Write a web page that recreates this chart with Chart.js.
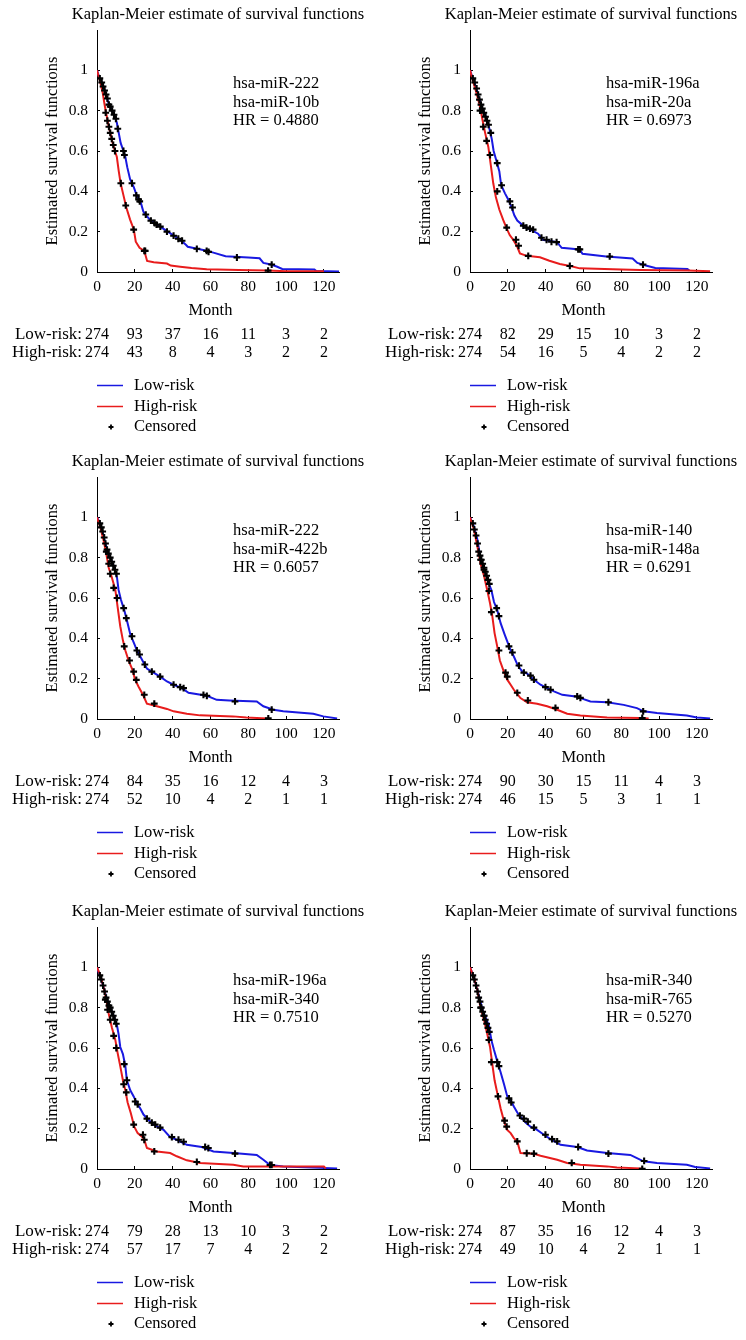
<!DOCTYPE html>
<html>
<head>
<meta charset="utf-8">
<script src="https://cdn.jsdelivr.net/npm/chart.js@4.4.1/dist/chart.umd.min.js"></script>
<style>
  html, body { margin: 0; padding: 0; background: #fff; }
  body { width: 746px; height: 1340px; overflow: hidden; position: relative; }
  .panel { position: absolute; width: 373px; height: 447px; }
</style>
</head>
<body>
<div class="panel" style="left:0;top:0"><canvas id="c1" width="373" height="447"></canvas></div>
<div class="panel" style="left:373px;top:0"><canvas id="c2" width="373" height="447"></canvas></div>
<div class="panel" style="left:0;top:447px"><canvas id="c3" width="373" height="447"></canvas></div>
<div class="panel" style="left:373px;top:447px"><canvas id="c4" width="373" height="447"></canvas></div>
<div class="panel" style="left:0;top:897px"><canvas id="c5" width="373" height="447"></canvas></div>
<div class="panel" style="left:373px;top:897px"><canvas id="c6" width="373" height="447"></canvas></div>
<script>
// shared axis values
const monthTicks = [0, 20, 40, 60, 80, 100, 120];
const monthMax = 128;
const survMax = 1.2;

// panel 1: hsa-miR-222 / hsa-miR-10b
const genes1 = ['hsa-miR-222', 'hsa-miR-10b'];
const hr1 = '0.4880';
const lowRisk1 = [[0,1],[1,0.97],[2,0.95],[3.5,0.92],[5,0.87],[6,0.84],[7.5,0.81],[9.5,0.77],[10.5,0.74],[11.5,0.69],[12.5,0.64],[14,0.6],[15,0.57],[16,0.52],[17.5,0.46],[19.5,0.42],[21,0.38],[23,0.35],[24.5,0.3],[26,0.28],[28,0.26],[31,0.24],[35,0.215],[39,0.19],[44,0.16],[47,0.135],[48,0.125],[53,0.115],[58,0.105],[62,0.095],[68,0.078],[80,0.072],[86,0.068],[88,0.045],[92,0.037],[95,0.027],[98,0.015],[115,0.012],[116,0.005],[128,0.003]];
const highRisk1 = [[0,1],[1.5,0.95],[3,0.89],[4,0.83],[5,0.78],[6,0.73],[7,0.69],[8,0.65],[9.5,0.6],[10.5,0.57],[11.5,0.5],[12.5,0.44],[14,0.38],[15.5,0.32],[17.5,0.26],[19.5,0.21],[20.5,0.15],[22.5,0.12],[25,0.105],[26.5,0.055],[30,0.048],[37,0.042],[39,0.032],[44,0.026],[50,0.02],[58,0.014],[75,0.01],[90,0.007],[100,0.004],[120,0.004]];
const censored1 = [[1.5,0.96],[2.5,0.94],[3.2,0.92],[4,0.9],[4.8,0.88],[5.5,0.86],[6.3,0.83],[7,0.82],[8,0.8],[9,0.78],[10,0.76],[11,0.71],[14,0.6],[14.5,0.58],[18.5,0.44],[20.8,0.38],[22,0.36],[22.6,0.35],[25.8,0.285],[28.5,0.255],[30.5,0.243],[31.5,0.235],[33.5,0.225],[37,0.2],[40.5,0.18],[43,0.165],[45,0.155],[52.8,0.115],[58,0.105],[59,0.1],[74,0.072],[92.4,0.037],
  [4.6,0.79],[5.5,0.75],[6.3,0.72],[7,0.69],[7.8,0.66],[8.6,0.63],[9.5,0.6],[12.6,0.44],[15.2,0.33],[19.4,0.21],[25,0.105],[25.5,0.105],[90.5,0.007]];
const atRiskLow1 = [274, 93, 37, 16, 11, 3, 2];
const atRiskHigh1 = [274, 43, 8, 4, 3, 2, 2];

// panel 2: hsa-miR-196a / hsa-miR-20a
const genes2 = ['hsa-miR-196a', 'hsa-miR-20a'];
const hr2 = '0.6973';
const lowRisk2 = [[0,1],[1.5,0.96],[3,0.92],[4,0.89],[5,0.855],[6.5,0.81],[8,0.78],[9.5,0.74],[10.5,0.7],[11.5,0.66],[12.5,0.6],[14,0.55],[15.5,0.5],[16.5,0.43],[18.5,0.39],[20.5,0.355],[22,0.32],[23.5,0.28],[25,0.255],[27.5,0.235],[29.5,0.22],[33,0.205],[36,0.19],[38.5,0.16],[46,0.148],[48.5,0.12],[58,0.112],[59.5,0.09],[72,0.077],[86,0.067],[88.5,0.045],[93,0.032],[98,0.02],[115,0.015],[116,0.007]];
const highRisk2 = [[0,1],[1.5,0.95],[3.5,0.885],[5.3,0.82],[6.7,0.75],[8,0.69],[9.7,0.62],[11,0.53],[12.3,0.44],[13.7,0.37],[15.5,0.31],[17.6,0.257],[19.4,0.216],[21,0.183],[23,0.158],[25,0.125],[26.4,0.092],[30,0.08],[37,0.073],[42,0.056],[47.5,0.04],[53,0.03],[58,0.018],[80,0.013],[90,0.01],[115,0.007],[127,0.004]];
const censored2 = [[1.5,0.96],[2.5,0.94],[3.5,0.91],[4.3,0.88],[5,0.855],[5.8,0.83],[6.5,0.81],[7.3,0.79],[8.2,0.77],[9,0.75],[9.8,0.73],[11,0.69],[14.4,0.54],[16.7,0.43],[21.1,0.35],[22.5,0.32],[28.2,0.23],[29.9,0.22],[31.7,0.215],[33.4,0.21],[37.8,0.17],[40.5,0.16],[43.1,0.15],[45.8,0.148],[57.2,0.112],[58.1,0.112],[73.9,0.077],[91.5,0.037],
  [5.3,0.8],[7,0.72],[8.8,0.65],[10.6,0.58],[14.4,0.4],[19.4,0.22],[24.3,0.16],[25.7,0.13],[30.8,0.08],[52.8,0.03]];
const atRiskLow2 = [274, 82, 29, 15, 10, 3, 2];
const atRiskHigh2 = [274, 54, 16, 5, 4, 2, 2];

// panel 3: hsa-miR-222 / hsa-miR-422b
const genes3 = ['hsa-miR-222', 'hsa-miR-422b'];
const hr3 = '0.6057';
const lowRisk3 = [[0,1],[1.4,0.975],[2.6,0.94],[3.9,0.89],[5.3,0.84],[7,0.8],[8.8,0.76],[10.6,0.7],[11.4,0.64],[12.7,0.59],[14.4,0.54],[15.8,0.49],[17.6,0.42],[19.4,0.38],[21.1,0.34],[22.9,0.31],[24.6,0.28],[26.4,0.25],[29.9,0.23],[33.4,0.21],[37,0.186],[40.5,0.17],[44.9,0.153],[48.4,0.13],[58.1,0.115],[63.3,0.095],[70,0.092],[84.5,0.087],[88,0.063],[93.3,0.046],[98.5,0.038],[114.4,0.026],[119.7,0.013],[127,0.003]];
const highRisk3 = [[0,1],[1.8,0.95],[3.5,0.885],[4.9,0.82],[6.2,0.75],[7.9,0.7],[9.7,0.64],[10.9,0.556],[12.3,0.46],[13.7,0.39],[15,0.34],[16.7,0.29],[18.5,0.25],[20.2,0.194],[22,0.16],[24.3,0.12],[26.4,0.076],[31.7,0.063],[37,0.05],[40.5,0.038],[47.5,0.026],[54.5,0.018],[72,0.013],[79,0.007],[90,0.003]];
const censored3 = [[1.5,0.97],[2.3,0.95],[3,0.93],[3.8,0.9],[4.5,0.87],[5.3,0.84],[6,0.82],[7,0.8],[7.8,0.78],[8.6,0.76],[9.5,0.74],[10.3,0.72],[14.1,0.55],[15.5,0.5],[18.5,0.41],[21.1,0.34],[22.5,0.32],[25.3,0.27],[29,0.235],[33.4,0.21],[40.5,0.17],[44,0.158],[45.8,0.153],[56.3,0.12],[58.1,0.115],[73,0.087],[92.4,0.046],
  [4.9,0.83],[6.2,0.77],[7,0.72],[8.8,0.65],[10.6,0.6],[14.4,0.36],[17.2,0.29],[19.4,0.235],[20.8,0.194],[25,0.12],[30.3,0.076],[90.6,0.003]];
const atRiskLow3 = [274, 84, 35, 16, 12, 4, 3];
const atRiskHigh3 = [274, 52, 10, 4, 2, 1, 1];

// panel 4: hsa-miR-140 / hsa-miR-148a
const genes4 = ['hsa-miR-140', 'hsa-miR-148a'];
const hr4 = '0.6291';
const lowRisk4 = [[0,1],[2.1,0.954],[3.9,0.89],[5.3,0.81],[6.5,0.76],[8.3,0.72],[10,0.67],[11.3,0.64],[12.7,0.58],[14.4,0.54],[16.2,0.475],[18.3,0.42],[19.7,0.385],[21.5,0.34],[23.2,0.31],[25.3,0.265],[27.6,0.236],[30.2,0.225],[33.8,0.195],[37.3,0.17],[40.8,0.153],[44.4,0.137],[48.8,0.12],[55.8,0.112],[63.7,0.087],[72.5,0.083],[81.3,0.07],[88.3,0.054],[91.8,0.038],[98.9,0.03],[114.7,0.017],[120,0.008],[127,0.003]];
const highRisk4 = [[0,1],[2.1,0.94],[3.9,0.855],[5.6,0.77],[7.4,0.71],[9.1,0.64],[10.6,0.574],[11.8,0.51],[13,0.426],[14.4,0.36],[15.8,0.29],[17.9,0.235],[19.7,0.195],[21.5,0.17],[23.2,0.145],[26.7,0.104],[30.2,0.083],[35.5,0.076],[40.8,0.063],[46.1,0.046],[51.4,0.026],[58.4,0.017],[72.5,0.008],[90,0.005],[94.5,0.002]];
const censored4 = [[1.5,0.97],[2.3,0.94],[3.2,0.91],[4,0.87],[4.6,0.83],[5.3,0.81],[6,0.79],[6.7,0.77],[7.4,0.75],[8.1,0.73],[8.8,0.71],[9.5,0.69],[10.2,0.67],[14.1,0.55],[15.3,0.51],[20.6,0.36],[22.4,0.33],[25.9,0.265],[28.5,0.23],[32,0.215],[33.8,0.195],[39.9,0.158],[42.6,0.145],[56.7,0.112],[58.4,0.105],[73.2,0.083],[91.6,0.038],
  [5.6,0.79],[7.4,0.74],[10,0.635],[11.3,0.53],[15.3,0.34],[18.8,0.23],[19.7,0.21],[25,0.13],[30.6,0.092],[45.2,0.055],[91.1,0.005]];
const atRiskLow4 = [274, 90, 30, 15, 11, 4, 3];
const atRiskHigh4 = [274, 46, 15, 5, 3, 1, 1];

// panel 5: hsa-miR-196a / hsa-miR-340
const genes5 = ['hsa-miR-196a', 'hsa-miR-340'];
const hr5 = '0.7510';
const lowRisk5 = [[0,1],[1.8,0.95],[3.5,0.9],[5.3,0.84],[7,0.8],[8.8,0.76],[10.6,0.71],[11.4,0.67],[12.3,0.605],[13.7,0.57],[15,0.51],[15.8,0.44],[17.6,0.39],[19.4,0.36],[21.1,0.325],[22.9,0.3],[24.6,0.27],[27.3,0.243],[29.9,0.22],[35.2,0.194],[38.7,0.158],[42.2,0.145],[47.5,0.12],[55.4,0.109],[61.6,0.087],[72.1,0.079],[84.5,0.07],[88,0.046],[91.5,0.02],[98.5,0.013],[127,0.003]];
const highRisk5 = [[0,1],[1.8,0.96],[3.5,0.9],[4.9,0.84],[6.2,0.77],[7.9,0.7],[9.7,0.64],[10.9,0.576],[12.3,0.51],[13.7,0.44],[15,0.39],[16.2,0.33],[17.9,0.276],[19.7,0.21],[21.5,0.178],[23.8,0.16],[25,0.145],[26.4,0.104],[31.7,0.087],[38.7,0.079],[42.2,0.063],[47.5,0.043],[54.5,0.03],[72.1,0.021],[77.4,0.013],[120,0.013],[121,0.003]];
const censored5 = [[1.5,0.96],[2.3,0.94],[3.2,0.91],[4,0.88],[4.8,0.85],[5.5,0.83],[6.3,0.81],[7,0.8],[7.8,0.78],[8.6,0.76],[9.4,0.74],[10.2,0.72],[14.4,0.52],[15.8,0.44],[20.2,0.335],[21.5,0.32],[26.4,0.25],[29,0.23],[30.8,0.22],[33.4,0.205],[39.6,0.158],[43.1,0.145],[45.8,0.135],[57.2,0.109],[58.9,0.104],[73,0.076],[91.5,0.02],[92.4,0.02],
  [4.4,0.84],[5.6,0.79],[7,0.74],[8.8,0.66],[10.2,0.6],[14.1,0.42],[15.5,0.38],[19.4,0.22],[24.3,0.17],[25,0.145],[30.3,0.087],[52.8,0.035]];
const atRiskLow5 = [274, 79, 28, 13, 10, 3, 2];
const atRiskHigh5 = [274, 57, 17, 7, 4, 2, 2];

// panel 6: hsa-miR-340 / hsa-miR-765
const genes6 = ['hsa-miR-340', 'hsa-miR-765'];
const hr6 = '0.5270';
const lowRisk6 = [[0,1],[2.1,0.95],[3.9,0.885],[5.3,0.84],[6.5,0.79],[8.3,0.75],[10,0.71],[11.3,0.64],[12.7,0.59],[14.4,0.535],[16.2,0.48],[18,0.42],[19.7,0.36],[21.5,0.34],[23.2,0.31],[25,0.28],[26.7,0.26],[29.4,0.23],[32,0.21],[35.5,0.194],[39.1,0.17],[42.6,0.148],[47.9,0.12],[56.7,0.109],[61.9,0.092],[72.5,0.079],[84.8,0.07],[88.3,0.054],[91.8,0.038],[98.9,0.03],[114.7,0.021],[119.1,0.01],[127,0.003]];
const highRisk6 = [[0,1],[2.1,0.95],[3.9,0.885],[5.6,0.8],[7.4,0.74],[9.1,0.67],[10.6,0.605],[11.8,0.52],[13,0.44],[14.8,0.36],[16.2,0.3],[17.9,0.24],[19.7,0.194],[21.5,0.178],[23.2,0.153],[25,0.137],[26.7,0.079],[33.8,0.076],[37.3,0.066],[46.1,0.046],[51.4,0.03],[58.4,0.021],[72.5,0.013],[77.7,0.008],[90,0.003],[91,0.001]];
const censored6 = [[1.5,0.96],[2.3,0.94],[3.2,0.91],[4,0.88],[4.6,0.85],[5.3,0.83],[6,0.8],[6.7,0.78],[7.4,0.76],[8.1,0.74],[8.8,0.72],[9.5,0.7],[10.2,0.68],[14.4,0.53],[15.3,0.51],[20.6,0.35],[21.8,0.33],[26.4,0.265],[28.5,0.25],[30.6,0.235],[33.8,0.205],[39.9,0.17],[43.4,0.148],[46.1,0.137],[57.2,0.109],[73.2,0.076],[92.1,0.04],
  [5.6,0.8],[7.4,0.76],[10,0.64],[11.3,0.53],[14.8,0.36],[18.3,0.24],[19.4,0.21],[25,0.137],[30,0.078],[33.8,0.076],[53.8,0.03],[91.1,0.001]];
const atRiskLow6 = [274, 87, 35, 16, 12, 4, 3];
const atRiskHigh6 = [274, 49, 10, 4, 2, 1, 1];

const panels = [
  {id: 'c1', genes: genes1, hr: hr1, low: lowRisk1, high: highRisk1, cens: censored1, nLow: atRiskLow1, nHigh: atRiskHigh1},
  {id: 'c2', genes: genes2, hr: hr2, low: lowRisk2, high: highRisk2, cens: censored2, nLow: atRiskLow2, nHigh: atRiskHigh2},
  {id: 'c3', genes: genes3, hr: hr3, low: lowRisk3, high: highRisk3, cens: censored3, nLow: atRiskLow3, nHigh: atRiskHigh3},
  {id: 'c4', genes: genes4, hr: hr4, low: lowRisk4, high: highRisk4, cens: censored4, nLow: atRiskLow4, nHigh: atRiskHigh4},
  {id: 'c5', genes: genes5, hr: hr5, low: lowRisk5, high: highRisk5, cens: censored5, nLow: atRiskLow5, nHigh: atRiskHigh5},
  {id: 'c6', genes: genes6, hr: hr6, low: lowRisk6, high: highRisk6, cens: censored6, nLow: atRiskLow6, nHigh: atRiskHigh6}
];

const SERIF = '"Liberation Serif", "Times New Roman", serif';
const BLUE = 'rgb(25, 25, 225)';
const RED = 'rgb(232, 28, 28)';

Chart.defaults.font.family = SERIF;
Chart.defaults.color = '#000';

const toXY = arr => arr.map(p => ({x: p[0], y: p[1]}));

// title, gene labels, risk table and legend drawn around the plot
const panelText = (p) => ({
    id: 'panelText',
    afterDraw(chart) {
        const {ctx, chartArea} = chart;
        const x = chart.scales.x;
        ctx.save();
        ctx.fillStyle = '#000';
        ctx.textBaseline = 'middle';
        ctx.font = '16.5px ' + SERIF;

        ctx.textAlign = 'center';
        ctx.fillText('Kaplan-Meier estimate of survival functions', (chartArea.left + chartArea.right) / 2, 15);

        ctx.textAlign = 'left';
        ctx.fillText(p.genes[0], 233, 84);
        ctx.fillText(p.genes[1], 233, 102.3);
        ctx.fillText('HR = ' + p.hr, 233, 120.6);

        ctx.textAlign = 'center';
        ctx.fillText('Month', x.getPixelForValue(60), 311);

        // number at risk
        ctx.font = '17px ' + SERIF;
        ctx.textAlign = 'right';
        ctx.fillText('Low-risk:', 82, 335);
        ctx.fillText('High-risk:', 82, 353);
        ctx.font = '16px ' + SERIF;
        ctx.textAlign = 'center';
        monthTicks.forEach((m, i) => {
            const px = x.getPixelForValue(m);
            ctx.fillText(String(p.nLow[i]), px, 335);
            ctx.fillText(String(p.nHigh[i]), px, 353);
        });

        // legend
        ctx.font = '16.5px ' + SERIF;
        ctx.lineWidth = 1.5;
        ctx.strokeStyle = BLUE;
        ctx.beginPath(); ctx.moveTo(97, 385.5); ctx.lineTo(123, 385.5); ctx.stroke();
        ctx.strokeStyle = RED;
        ctx.beginPath(); ctx.moveTo(97, 406.5); ctx.lineTo(123, 406.5); ctx.stroke();
        ctx.strokeStyle = '#000';
        ctx.lineWidth = 1.8;
        ctx.beginPath();
        ctx.moveTo(108.5, 427); ctx.lineTo(113.5, 427);
        ctx.moveTo(111, 424.5); ctx.lineTo(111, 429.5);
        ctx.stroke();
        ctx.textAlign = 'left';
        ctx.fillText('Low-risk', 134, 385.5);
        ctx.fillText('High-risk', 134, 406.5);
        ctx.fillText('Censored', 134, 427);
        ctx.restore();
    }
});

panels.forEach(p => {
    new Chart(document.getElementById(p.id), {
        type: 'scatter',
        data: {
            datasets: [
                {
                    label: 'Censored',
                    data: toXY(p.cens),
                    showLine: false,
                    pointStyle: 'cross',
                    pointRadius: 3.4,
                    pointBorderWidth: 2.1,
                    borderColor: '#000',
                    backgroundColor: '#000',
                    order: 0
                },
                {
                    label: 'High-risk',
                    data: toXY(p.high),
                    showLine: true,
                    borderColor: RED,
                    borderWidth: 2,
                    pointRadius: 0,
                    tension: 0,
                    order: 1
                },
                {
                    label: 'Low-risk',
                    data: toXY(p.low),
                    showLine: true,
                    borderColor: BLUE,
                    borderWidth: 2,
                    pointRadius: 0,
                    tension: 0,
                    order: 2
                }
            ]
        },
        options: {
            responsive: false,
            animation: false,
            events: [],
            layout: { padding: { left: 0, right: 34, top: 30, bottom: 0 } },
            scales: {
                x: {
                    type: 'linear',
                    min: 0,
                    max: monthMax,
                    afterFit: s => { s.height = 175; },
                    border: { display: true, color: '#000', width: 1 },
                    grid: { display: true, drawOnChartArea: false, drawTicks: true, tickLength: -3, color: '#000' },
                    ticks: {
                        stepSize: 20,
                        includeBounds: false,
                        padding: 9,
                        maxRotation: 0,
                        font: { size: 15.5 },
                        callback: v => String(v)
                    }
                },
                y: {
                    type: 'linear',
                    min: 0,
                    max: survMax,
                    afterFit: s => { s.width = 97; },
                    afterBuildTicks: s => { s.ticks = s.ticks.filter(t => t.value <= 1.0001); },
                    border: { display: true, color: '#000', width: 1 },
                    grid: { display: true, drawOnChartArea: false, drawTicks: true, tickLength: -3, color: '#000' },
                    ticks: {
                        stepSize: 0.2,
                        padding: 12,
                        font: { size: 15.5 },
                        callback: v => String(Math.round(v * 10) / 10)
                    },
                    title: {
                        display: true,
                        text: 'Estimated survival functions',
                        font: { size: 16.5 },
                        padding: { top: 43, bottom: 0 }
                    }
                }
            },
            plugins: {
                legend: { display: false },
                tooltip: { enabled: false },
                title: { display: false }
            }
        },
        plugins: [panelText(p)]
    });
});
</script>
</body>
</html>
